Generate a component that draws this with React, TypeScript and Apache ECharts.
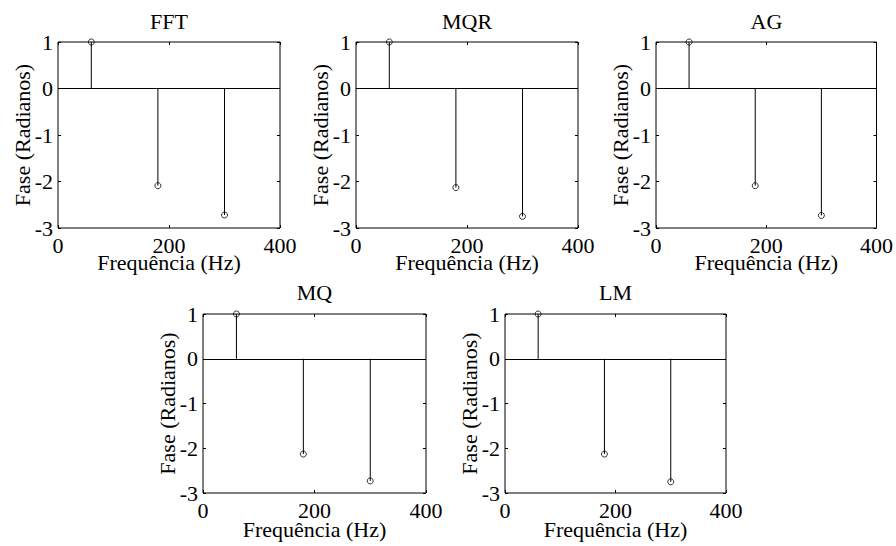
import React, { useEffect, useRef } from "react";
import * as echarts from "echarts";

// ---- data ----
const frequencies = [60, 180, 300];
const panelTitles = ["FFT", "MQR", "AG", "MQ", "LM"];
const phaseFFT = [1.0, -2.09, -2.72];
const phaseMQR = [1.0, -2.13, -2.75];
const phaseAG = [1.0, -2.09, -2.73];
const phaseMQ = [1.0, -2.13, -2.73];
const phaseLM = [1.0, -2.13, -2.75];
const xTickRange = [0, 400];
const yTickRange = [-3, 1];
const xLabel = "Frequência (Hz)";
const yLabel = "Fase (Radianos)";

const panelValues = [phaseFFT, phaseMQR, phaseAG, phaseMQ, phaseLM];

// ---- layout ----
const panelRects = [
  { left: 58, top: 42, width: 222, height: 186 },
  { left: 356, top: 42, width: 222, height: 186 },
  { left: 656, top: 42, width: 221, height: 186 },
  { left: 203, top: 314, width: 223, height: 179 },
  { left: 505, top: 314, width: 221, height: 179 },
];

const FONT = "Liberation Serif";
const FS = 22;

export default function App() {
  const ref = useRef<HTMLDivElement>(null);

  useEffect(() => {
    if (!ref.current) return;
    const chart = echarts.init(ref.current, undefined, { renderer: "svg" });

    const grid: any[] = [];
    const xAxis: any[] = [];
    const yAxis: any[] = [];
    const series: any[] = [];
    const graphic: any[] = [];

    panelRects.forEach((r, i) => {
      const topRow = i < 3;
      grid.push({
        left: r.left,
        top: r.top,
        width: r.width,
        height: r.height,
        show: true,
        borderColor: "#000",
        borderWidth: 1,
        backgroundColor: "transparent",
        containLabel: false,
      });
      const tick = { show: true, inside: true, length: 3, lineStyle: { color: "#000", width: 1 } };
      const line = { show: false, onZero: false };
      xAxis.push({
        gridIndex: i,
        type: "value",
        position: "bottom",
        min: xTickRange[0],
        max: xTickRange[1],
        interval: 200,
        axisLine: line,
        axisTick: tick,
        splitLine: { show: false },
        axisLabel: { color: "#000", fontFamily: FONT, fontSize: FS, lineHeight: 16, margin: 9 },
        name: xLabel,
        nameLocation: "middle",
        nameGap: topRow ? 26 : 28,
        nameMoveOverlap: false,
        nameTextStyle: { color: "#000", fontFamily: FONT, fontSize: FS, lineHeight: 16 },
      });
      xAxis.push({
        gridIndex: i,
        type: "value",
        position: "top",
        min: xTickRange[0],
        max: xTickRange[1],
        interval: 200,
        axisLine: line,
        axisTick: tick,
        splitLine: { show: false },
        axisLabel: { show: false },
      });
      yAxis.push({
        gridIndex: i,
        type: "value",
        position: "left",
        min: yTickRange[0],
        max: yTickRange[1],
        interval: 1,
        axisLine: line,
        axisTick: tick,
        splitLine: { show: false },
        axisLabel: { color: "#000", fontFamily: FONT, fontSize: FS, margin: 5 },
        name: yLabel,
        nameLocation: "middle",
        nameGap: 25,
        nameMoveOverlap: false,
        nameTextStyle: { color: "#000", fontFamily: FONT, fontSize: FS },
      });
      yAxis.push({
        gridIndex: i,
        type: "value",
        position: "right",
        min: yTickRange[0],
        max: yTickRange[1],
        interval: 1,
        axisLine: line,
        axisTick: tick,
        splitLine: { show: false },
        axisLabel: { show: false },
      });

      const data = frequencies.map((f, j) => [f, panelValues[i][j]]);
      series.push({
        type: "custom",
        xAxisIndex: 2 * i,
        yAxisIndex: 2 * i,
        data,
        renderItem: (params: any, api: any) => {
          const p0 = api.coord([api.value(0), 0]);
          const p1 = api.coord([api.value(0), api.value(1)]);
          return {
            type: "line",
            shape: { x1: p0[0], y1: p0[1], x2: p1[0], y2: p1[1] },
            style: { stroke: "#000", lineWidth: 1 },
          };
        },
      });
      series.push({
        type: "scatter",
        xAxisIndex: 2 * i,
        yAxisIndex: 2 * i,
        data,
        symbol: "circle",
        symbolSize: 6,
        itemStyle: { color: "rgba(0,0,0,0)", borderColor: "#000", borderWidth: 1 },
        markLine: {
          silent: true,
          symbol: "none",
          label: { show: false },
          lineStyle: { color: "#000", type: "solid", width: 1 },
          data: [{ yAxis: 0 }],
        },
      });

      graphic.push({
        type: "text",
        x: r.left + r.width / 2,
        y: topRow ? 21 : 292,
        style: {
          text: panelTitles[i],
          fill: "#000",
          fontFamily: FONT,
          fontSize: FS,
          textAlign: "center",
          textVerticalAlign: "middle",
        },
      });
    });

    chart.setOption({
      animation: false,
      backgroundColor: "#fff",
      grid,
      xAxis,
      yAxis,
      series,
      graphic,
    });

    return () => chart.dispose();
  }, []);

  return (
    <div
      ref={ref}
      style={{ position: "absolute", left: 0, top: 0, width: 896, height: 546 }}
    />
  );
}
